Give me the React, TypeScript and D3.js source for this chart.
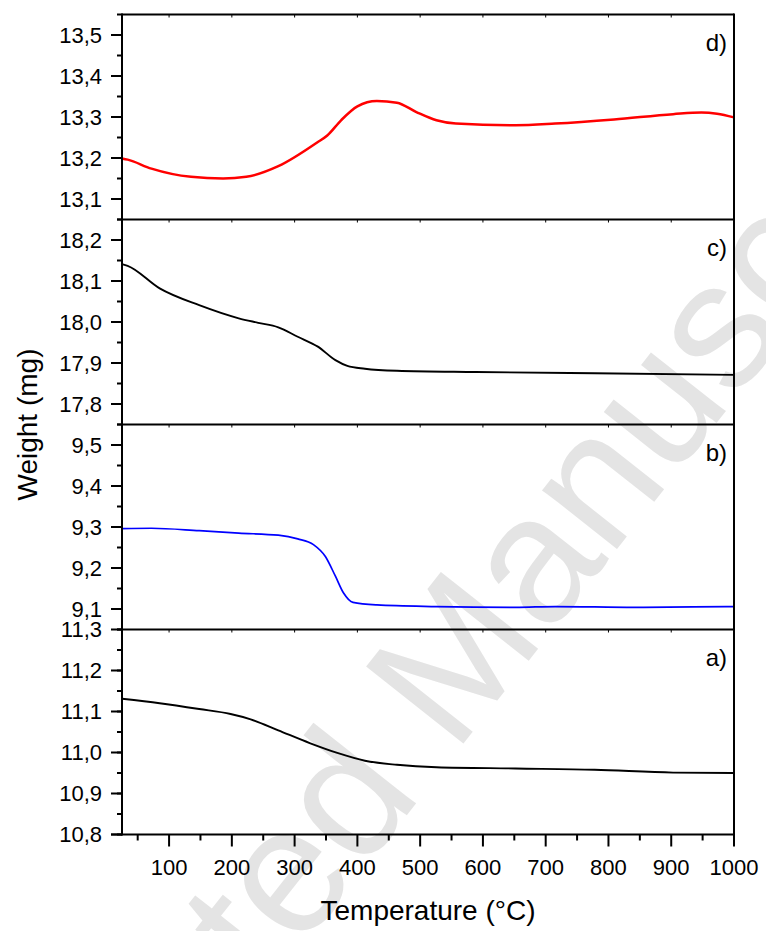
import React from "react";
import * as d3 from "d3";

// panel a) black
const tempA = [25, 85, 148, 198, 230, 274, 324, 368, 412, 463, 526, 652, 778, 903, 1000];
const weightA = [11.131, 11.12, 11.106, 11.094, 11.081, 11.054, 11.023, 10.999, 10.98, 10.97, 10.964, 10.961, 10.958, 10.951, 10.95];

// panel b) blue
const tempB = [25, 72, 148, 211, 274, 305, 330, 349, 365, 378, 393, 431, 526, 652, 715, 841, 935, 1000];
const weightB = [9.296, 9.297, 9.291, 9.285, 9.28, 9.271, 9.257, 9.228, 9.18, 9.139, 9.116, 9.11, 9.106, 9.104, 9.106, 9.104, 9.105, 9.106];

// panel c) black
const tempC = [25, 34, 85, 148, 211, 242, 274, 305, 337, 365, 384, 412, 463, 589, 778, 1000];
const weightC = [18.141, 18.137, 18.082, 18.041, 18.009, 17.998, 17.987, 17.964, 17.94, 17.907, 17.893, 17.886, 17.881, 17.878, 17.875, 17.871];

// panel d) red
const tempD = [25, 34, 72, 135, 186, 223, 274, 337, 352, 374, 400, 431, 463, 494, 526, 557, 652, 715, 809, 903, 948, 973, 1000];
const weightD = [13.199, 13.196, 13.174, 13.154, 13.15, 13.154, 13.18, 13.239, 13.255, 13.292, 13.326, 13.339, 13.335, 13.312, 13.292, 13.284, 13.28, 13.284, 13.294, 13.307, 13.311, 13.308, 13.299];

const xMajor = [100, 200, 300, 400, 500, 600, 700, 800, 900, 1000];
const xMinor = [50, 150, 250, 350, 450, 550, 650, 750, 850, 950];

// top to bottom
const panels = [
  { label: "d)", temps: tempD, weights: weightD, domain: [13.05, 13.55], color: "#ff0000", width: 2.5 },
  { label: "c)", temps: tempC, weights: weightC, domain: [17.75, 18.25], color: "#000000", width: 1.9 },
  { label: "b)", temps: tempB, weights: weightB, domain: [9.05, 9.55], color: "#0000ff", width: 1.7 },
  { label: "a)", temps: tempA, weights: weightA, domain: [10.8, 11.3], color: "#000000", width: 1.9 },
];

const W = 766;
const H = 931;
const left = 122;
const right = 734;
const top = 14.5;
const panelH = 205;
const bottom = top + panelH * 4;
const font = "'Liberation Sans', Arial, Helvetica, sans-serif";

const fmt = d3.formatLocale({ decimal: ",", thousands: ".", grouping: [3], currency: ["", ""] }).format(".1f");

export default function App() {
  const x = d3.scaleLinear().domain([25, 1000]).range([left, right]);

  return (
    <svg width={W} height={H} style={{ position: "absolute", left: 0, top: 0, background: "#fff" }}>
      <rect width={W} height={H} fill="#fff" />
      {/* watermark */}
      <text
        x={430}
        y={685}
        transform="rotate(-51.7 430 685)"
        textAnchor="middle"
        dominantBaseline="central"
        fontFamily={font}
        fontSize={180}
        fill="#e4e4e4"
      >
        Accepted Manuscript
      </text>

      {panels.map((p, i) => {
        const pTop = top + i * panelH;
        const pBottom = pTop + panelH;
        const y = d3.scaleLinear().domain(p.domain).range([pBottom, pTop]);
        const minor = y.ticks(10);
        const major = y.ticks(5);
        const pts = p.temps.map((t, k) => [t, p.weights[k]] as [number, number]);
        const line = d3
          .line<[number, number]>()
          .x((d) => x(d[0]))
          .y((d) => y(d[1]))
          .curve(d3.curveMonotoneX);
        return (
          <g key={p.label}>
            <path d={line(pts) || ""} fill="none" stroke={p.color} strokeWidth={p.width} strokeLinejoin="round" />
            {minor.map((v) => (
              <line key={"mi" + v} x1={left - 5} x2={left} y1={y(v)} y2={y(v)} stroke="#000" strokeWidth={2} />
            ))}
            {major.map((v) => (
              <g key={"ma" + v}>
                <line x1={left - 11} x2={left} y1={y(v)} y2={y(v)} stroke="#000" strokeWidth={2} />
                <text x={102} y={y(v)} dy="0.36em" textAnchor="end" fontFamily={font} fontSize={22} fill="#000">
                  {fmt(v)}
                </text>
              </g>
            ))}
            {xMajor.slice(0, -1).map((t) => (
              <line key={"it" + t} x1={x(t)} x2={x(t)} y1={pTop} y2={pTop + 3} stroke="#000" strokeWidth={1} />
            ))}
            <line x1={left} x2={right} y1={pTop} y2={pTop} stroke="#000" strokeWidth={2} />
            <text x={727} y={pTop + 36} textAnchor="end" fontFamily={font} fontSize={24} fill="#000">
              {p.label}
            </text>
          </g>
        );
      })}

      {/* frame */}
      <line x1={left} x2={left} y1={top - 1} y2={bottom + 1} stroke="#000" strokeWidth={2} />
      <line x1={right} x2={right} y1={top - 1} y2={bottom + 1} stroke="#000" strokeWidth={2} />
      <line x1={left - 11} x2={right + 1} y1={bottom} y2={bottom} stroke="#000" strokeWidth={2} />

      {/* x axis */}
      {xMinor.map((t) => (
        <line key={"xm" + t} x1={x(t)} x2={x(t)} y1={bottom} y2={bottom + 6} stroke="#000" strokeWidth={2} />
      ))}
      {xMajor.map((t) => (
        <g key={"xM" + t}>
          <line x1={x(t)} x2={x(t)} y1={bottom} y2={bottom + 12} stroke="#000" strokeWidth={2} />
          <text x={x(t)} y={875} textAnchor="middle" fontFamily={font} fontSize={22} fill="#000">
            {t}
          </text>
        </g>
      ))}

      <text x={(left + right) / 2} y={920} textAnchor="middle" fontFamily={font} fontSize={28} fill="#000">
        Temperature (°C)
      </text>
      <text
        x={37}
        y={(top + bottom) / 2}
        transform={`rotate(-90 37 ${(top + bottom) / 2})`}
        textAnchor="middle"
        fontFamily={font}
        fontSize={28}
        fill="#000"
      >
        Weight (mg)
      </text>
    </svg>
  );
}
